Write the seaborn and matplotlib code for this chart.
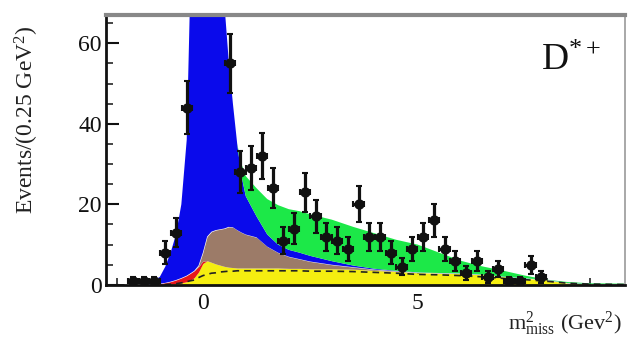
import numpy as np
import matplotlib
matplotlib.use("Agg")
import matplotlib.pyplot as plt
import seaborn as sns
import pandas as pd

# ---------------- data ----------------
# data points (bin centres, 0.25 GeV^2 bins) and counts
data_x = [-1.625, -1.375, -1.125, -0.875, -0.625, -0.375, -0.125, 0.125, 0.375,
          0.625, 0.875, 1.125, 1.375, 1.625, 1.875, 2.125, 2.375, 2.625, 2.875,
          3.125, 3.375, 3.625, 3.875, 4.125, 4.375, 4.625, 4.875, 5.125, 5.375,
          5.625, 5.875, 6.125, 6.375, 6.625, 6.875, 7.125, 7.375, 7.625, 7.875]
data_y = [1, 1, 1, 8, 13, 44, 95, 150, 110,
          55, 28, 29, 32, 24, 11, 14, 23, 17, 12,
          11, 9, 20, 12, 12, 8, 4.5, 9, 12, 16,
          9, 6, 3, 6, 2, 4, 1, 1, 5, 2]

# fit components: cumulative stack tops
model_x = [-2.25, -1.5, -1.25, -1.0, -0.875, -0.75, -0.625, -0.5, -0.375, -0.3,
           -0.2, -0.1, 0.0, 0.1, 0.2, 0.3, 0.4, 0.5, 0.6, 0.7,
           0.8, 0.9, 1.0, 1.25, 1.5, 1.75, 2.0, 2.25, 2.5, 3.0,
           3.5, 4.0, 4.5, 5.0, 5.5, 6.0, 6.5, 7.0, 7.5, 8.0,
           8.5, 9.0, 9.8]
yellow_top = [0, 0, 0.05, 0.1, 0.15, 0.2, 0.3, 0.5, 0.8, 1.1,
              1.8, 3.2, 5.3, 6.0, 5.6, 5.2, 4.9, 4.6, 4.4, 4.3,
              4.2, 4.2, 4.2, 4.2, 4.2, 4.2, 4.1, 4.1, 4.0, 4.0,
              3.9, 3.6, 3.3, 3.0, 2.9, 2.8, 2.5, 2.0, 1.6, 1.2,
              0.4, 0.2, 0.1]
red_top = [0, 0, 0.1, 0.3, 0.5, 0.8, 1.2, 1.7, 2.3, 2.8,
           3.5, 4.5, 5.9, 6.0, 5.6, 5.2, 4.9, 4.6, 4.4, 4.3,
           4.2, 4.2, 4.2, 4.2, 4.2, 4.2, 4.1, 4.1, 4.0, 4.0,
           3.9, 3.6, 3.3, 3.0, 2.9, 2.8, 2.5, 2.0, 1.6, 1.2,
           0.4, 0.2, 0.1]
brown_top = [0, 0, 0.1, 0.3, 0.5, 0.8, 1.2, 1.7, 2.3, 2.8,
             3.5, 4.8, 8.0, 12.0, 13.2, 13.6, 13.8, 14.0, 14.4, 14.3,
             13.6, 13.0, 12.5, 11.8, 9.5, 8.0, 7.0, 6.4, 5.8, 5.0,
             4.4, 3.8, 3.4, 3.05, 2.9, 2.8, 2.5, 2.0, 1.6, 1.2,
             0.4, 0.2, 0.1]
blue_top = [0, 0, 0.2, 2.0, 4.5, 8.0, 12.5, 20.0, 36.0, 70.0,
            110.0, 140.0, 160.0, 160.0, 150.0, 120.0, 90.0, 70.0, 56.0, 45.0,
            35.0, 27.0, 22.0, 17.0, 12.5, 10.0, 8.7, 8.0, 7.2, 5.9,
            4.8, 4.0, 3.5, 3.1, 2.95, 2.85, 2.55, 2.05, 1.65, 1.25,
            0.45, 0.25, 0.15]
green_top = [0, 0, 0.2, 2.0, 4.5, 8.0, 12.5, 20.0, 36.0, 70.0,
             110.0, 140.0, 160.0, 160.0, 150.0, 120.0, 90.0, 70.0, 56.0, 45.0,
             35.0, 30.0, 27.0, 24.0, 21.3, 19.8, 18.8, 18.3, 17.5, 16.2,
             14.4, 12.8, 11.2, 10.0, 8.0, 6.0, 4.6, 3.5, 2.3, 1.3,
             0.7, 0.4, 0.3]
dash_y = [0, 0, 0, 0.05, 0.1, 0.2, 0.3, 0.5, 0.8, 1.0,
          1.2, 1.8, 2.3, 2.6, 2.9, 3.0, 3.2, 3.3, 3.4, 3.4,
          3.5, 3.5, 3.5, 3.5, 3.5, 3.5, 3.5, 3.5, 3.4, 3.4,
          3.3, 3.1, 2.9, 2.6, 2.5, 2.3, 2.0, 1.6, 1.3, 0.9,
          0.4, 0.2, 0.1]

x_ticks = [0, 5]
y_ticks = [0, 20, 40, 60]

# ---------------- style ----------------
sns.set_theme(style="ticks")
plt.rcParams['font.family'] = ['Liberation Serif', 'DejaVu Serif']
plt.rcParams['mathtext.fontset'] = 'custom'
plt.rcParams['mathtext.rm'] = 'Liberation Serif'
plt.rcParams['mathtext.it'] = 'Liberation Serif'

fig = plt.figure(figsize=(6.28, 3.42), dpi=100)
ax = fig.add_axes([0.169, 0.167, 0.826, 0.789])

mx = np.array(model_x)
zero = np.zeros_like(mx)
ax.fill_between(mx, zero, yellow_top, color="#f5ee10", lw=0)
ax.fill_between(mx, yellow_top, red_top, color="#e8151a", lw=0)
ax.fill_between(mx, red_top, brown_top, color="#9c7b68", lw=0)
ax.fill_between(mx, brown_top, blue_top, color="#0a0aeb", lw=0)
ax.fill_between(mx, blue_top, green_top, color="#1ce848", lw=0)
ax.plot(mx, dash_y, color="#222222", lw=1.2, ls=(0, (4, 3)))

df = pd.DataFrame({"x": data_x, "y": data_y})
ax.errorbar(df["x"], df["y"], yerr=np.sqrt(df["y"]), xerr=0.12,
            fmt="none", ecolor="#111111", elinewidth=2.3, capsize=2.5, capthick=1.5)
sns.scatterplot(data=df, x="x", y="y", ax=ax, color="#111111", s=55,
                marker="o", edgecolor="#111111", linewidth=0, zorder=5, legend=False)

ax.set_xlim(-2.25, 9.82)
ax.set_ylim(0, 67)
ax.set_xticks(x_ticks)
ax.set_xticklabels([str(v) for v in x_ticks])
ax.set_yticks(y_ticks)
ax.set_yticklabels([str(v) for v in y_ticks])
ax.set_xticks(np.arange(-2, 10, 1), minor=True)
ax.set_yticks(np.arange(0, 67, 5), minor=True)
ax.tick_params(axis="both", which="major", direction="in", length=9, width=1.5,
               labelsize=17, colors="#111111", pad=3)
ax.tick_params(axis="both", which="minor", direction="in", length=5, width=1.2)
ax.tick_params(axis="x", which="major", pad=6)
ax.set_xlabel("")
ax.set_ylabel("")

for side in ["left", "bottom"]:
    ax.spines[side].set_color("#111111")
    ax.spines[side].set_linewidth(2.0)
ax.spines["top"].set_color("#888888")
ax.spines["top"].set_linewidth(3.0)
ax.spines["right"].set_color("#999999")
ax.spines["right"].set_linewidth(1.2)
ax.spines["top"].set_visible(True)
ax.spines["right"].set_visible(True)

fig.text(0.043, 0.65, r"Events/(0.25 GeV$^2$)", rotation=90, ha="center",
         va="center", fontsize=17, color="#222222")
fig.text(0.99, 0.055, r"m$^2_{\rm miss}$ (Gev$^2$)", ha="right", va="center",
         fontsize=16, color="#222222")
ax.text(0.955, 0.765, r"D$^{*+}$", transform=ax.transAxes, ha="right",
        va="bottom", fontsize=27, color="#111111")

fig.savefig("out.png", dpi=100)
